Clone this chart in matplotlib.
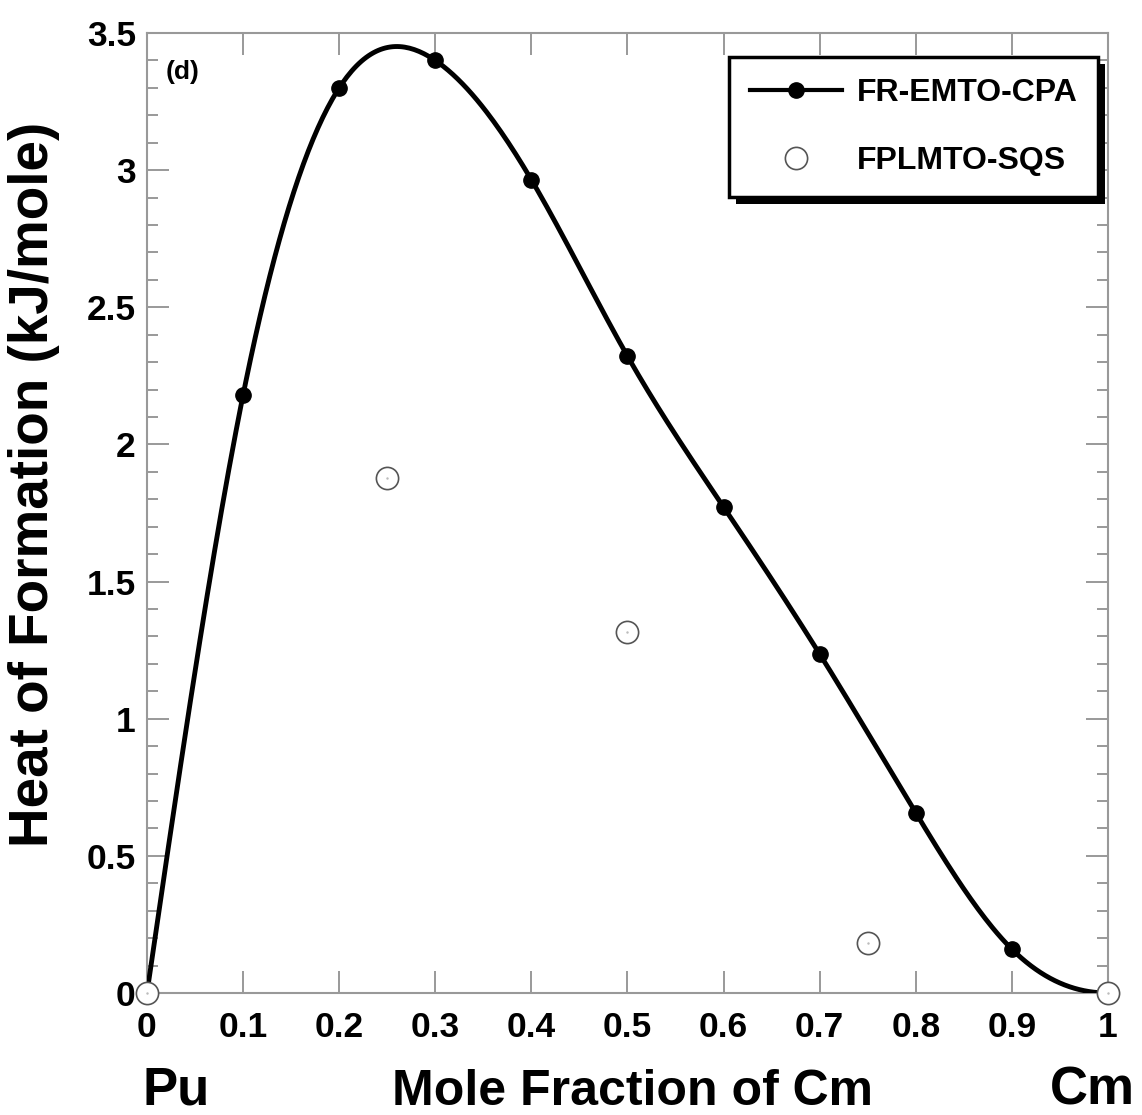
import numpy as np
import matplotlib.pyplot as plt
from matplotlib.ticker import MultipleLocator
import matplotlib.patheffects as pe

# Data
cpa_x = [0.0, 0.1, 0.2, 0.3, 0.4, 0.5, 0.6, 0.7, 0.8, 0.9, 1.0]
cpa_y = [0.0, 2.18, 3.30, 3.40, 2.965, 2.322, 1.772, 1.236, 0.657, 0.160, 0.0]

sqs_x = [0.0, 0.25, 0.5, 0.75, 1.0]
sqs_y = [0.0, 1.877, 1.316, 0.182, 0.0]

xticks = [0, 0.1, 0.2, 0.3, 0.4, 0.5, 0.6, 0.7, 0.8, 0.9, 1]
xtick_lbl = ['0', '0.1', '0.2', '0.3', '0.4', '0.5', '0.6', '0.7', '0.8', '0.9', '1']
yticks = [0, 0.5, 1, 1.5, 2, 2.5, 3, 3.5]
ytick_lbl = ['0', '0.5', '1', '1.5', '2', '2.5', '3', '3.5']


def smooth_line(x, y, n=400, end_slope=0.0):
    # cubic spline through the points: natural at the left end,
    # clamped slope at the right end (curve flattens into x=1)
    x = np.asarray(x, float)
    y = np.asarray(y, float)
    m = len(x)
    h = np.diff(x)
    A = np.zeros((m, m))
    b = np.zeros(m)
    A[0, 0] = 1.0
    for i in range(1, m - 1):
        A[i, i - 1] = h[i - 1]
        A[i, i] = 2 * (h[i - 1] + h[i])
        A[i, i + 1] = h[i]
        b[i] = 6 * ((y[i + 1] - y[i]) / h[i] - (y[i] - y[i - 1]) / h[i - 1])
    A[-1, -2] = h[-1]
    A[-1, -1] = 2 * h[-1]
    b[-1] = 6 * (end_slope - (y[-1] - y[-2]) / h[-1])
    M = np.linalg.solve(A, b)
    xs = np.linspace(x[0], x[-1], n)
    idx = np.clip(np.searchsorted(x, xs) - 1, 0, m - 2)
    x0, x1 = x[idx], x[idx + 1]
    hh = x1 - x0
    t0, t1 = x1 - xs, xs - x0
    ys = (M[idx] * t0 ** 3 + M[idx + 1] * t1 ** 3) / (6 * hh) \
        + (y[idx] / hh - M[idx] * hh / 6) * t0 \
        + (y[idx + 1] / hh - M[idx + 1] * hh / 6) * t1
    return xs, ys


plt.rcParams['font.family'] = ['Liberation Sans', 'DejaVu Sans']
plt.rcParams['font.weight'] = 'bold'

fig = plt.figure(figsize=(11.42, 11.15), dpi=100)
ax = fig.add_axes([0.1287, 0.1094, 0.8415, 0.861])

xs, ys = smooth_line(cpa_x, cpa_y)
ax.plot(xs, ys, color='black', lw=3.5, zorder=3)
ax.plot(cpa_x[1:-1], cpa_y[1:-1], 'o', color='black', ms=11, zorder=4)
# legend proxy
ax.plot([], [], '-o', color='black', lw=3, ms=11, label='FR-EMTO-CPA')

ax.plot(sqs_x, sqs_y, 'o', mfc='white', mec='#555555', mew=1.2, ms=16,
        zorder=5, clip_on=False, label='FPLMTO-SQS')
ax.plot(sqs_x, sqs_y, '.', color='#bbbbbb', ms=1.5, zorder=6, clip_on=False)

ax.set_xlim(0, 1)
ax.set_ylim(0, 3.5)
ax.set_xticks(xticks)
ax.set_xticklabels(xtick_lbl)
ax.set_yticks(yticks)
ax.set_yticklabels(ytick_lbl)
ax.yaxis.set_minor_locator(MultipleLocator(0.1))

ax.tick_params(axis='both', which='both', direction='in', color='#888888',
               top=True, right=True, labelsize=25.5, width=1.2)
ax.tick_params(axis='x', which='major', length=16, pad=13)
ax.tick_params(axis='y', which='major', length=16, pad=8)
ax.tick_params(axis='y', which='minor', length=8)
for s in ax.spines.values():
    s.set_color('#999999')
    s.set_linewidth(1.5)

ax.set_ylabel('Heat of Formation (kJ/mole)', fontsize=39.5, fontweight='bold')
ax.yaxis.set_label_coords(-0.091, 0.53)
ax.set_xlabel('Mole Fraction of Cm', fontsize=36, fontweight='bold')
ax.xaxis.set_label_coords(0.505, -0.079)
fig.text(143 / 1142, 0.009, 'Pu', fontsize=38, fontweight='bold',
         ha='left', va='baseline')
fig.text(1092 / 1142, 0.009, 'Cm', fontsize=38, fontweight='bold',
         ha='center', va='baseline')
ax.text(0.019, 0.972, '(d)', transform=ax.transAxes, fontsize=19, fontweight='bold',
        ha='left', va='top')

leg = ax.legend(loc='upper right', bbox_to_anchor=(0.99, 0.975), fontsize=23,
                frameon=True, fancybox=False, shadow=False, framealpha=1,
                borderpad=0.65, borderaxespad=0, labelspacing=1.2,
                handlelength=2.9, handletextpad=0.45)
frame = leg.get_frame()
frame.set_facecolor('white')
frame.set_edgecolor('black')
frame.set_linewidth(2.5)
frame.set_path_effects([pe.SimplePatchShadow(offset=(5, -5), shadow_rgbFace='black', alpha=1.0),
                        pe.Normal()])

fig.savefig('out.png', dpi=100)
